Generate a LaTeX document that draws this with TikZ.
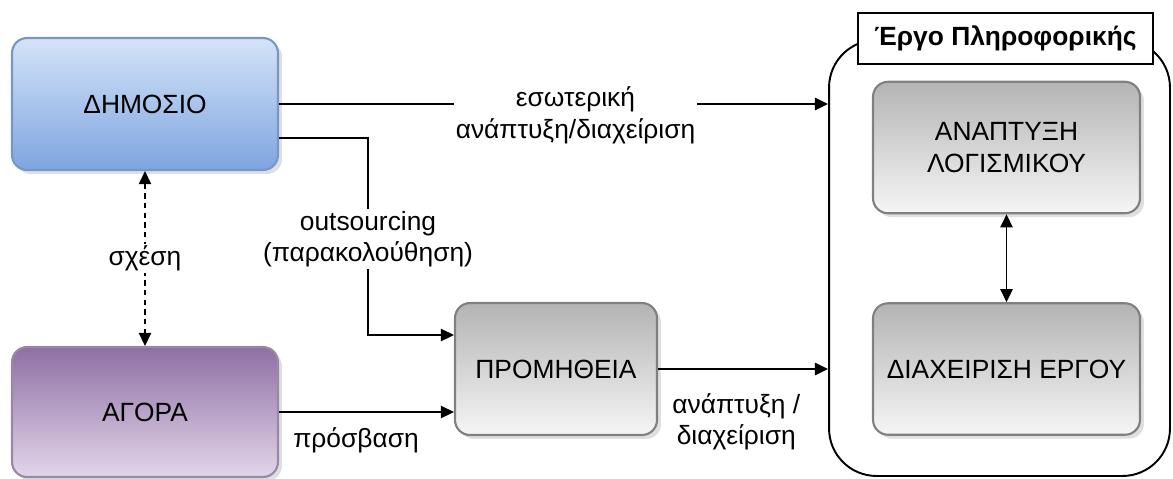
\documentclass[tikz,border=0pt]{standalone}
\usepackage{fontspec}
\setmainfont{Liberation Sans}
\usetikzlibrary{calc,arrows.meta,shadows}

\definecolor{pubtop}{HTML}{D4E3F8}
\definecolor{pubbot}{HTML}{7EA5E0}
\definecolor{publine}{HTML}{7896C8}
\definecolor{mkttop}{HTML}{8F6FA4}
\definecolor{mktbot}{HTML}{E2D6EA}
\definecolor{mktline}{HTML}{9A88A8}
\definecolor{greytop}{HTML}{B4B4B4}
\definecolor{greybot}{HTML}{F5F5F5}

\begin{document}
\begin{tikzpicture}[x=0.02cm, y=-0.02cm,
		box/.style={rounded corners=0.3cm, line width=1.2pt, font=\fontsize{15}{18}\selectfont,
			align=center, drop shadow={opacity=0.25, shadow xshift=0.08cm, shadow yshift=-0.08cm}},
		greybox/.style={box, draw=black!50, top color=greytop, bottom color=greybot,
			minimum width=5.34cm, minimum height=2.63cm},
		lbl/.style={fill=white, inner sep=1pt, align=center, font=\fontsize{15}{18}\selectfont},
		arr/.style={line width=1.1pt, -{Triangle[length=7.5pt, width=7pt]}},
		twoarr/.style={line width=1.1pt, {Triangle[length=7.5pt, width=7pt]}-{Triangle[length=7.5pt, width=7pt]}}]
			%%%%% START %%%%%
			\useasboundingbox (0,0) rectangle (1173,478);
			
			% Έργο Πληροφορικής
			\node[draw, line width=1.1pt, rounded corners=0.95cm, minimum width=6.82cm, minimum height=8.72cm] (project) at (999.5,258) {};
			\node[draw, fill=white, line width=1.1pt, minimum width=5.9cm, minimum height=1.02cm, font=\fontsize{15}{18}\selectfont\bfseries] (title) at (1005.5,38.5) {Έργο Πληροφορικής};
			\node[greybox] (software) at (1006.5,147.5) {ΑΝΑΠΤΥΞΗ\\ΛΟΓΙΣΜΙΚΟΥ};
			\node[greybox] (management) at (1006.5,369) {ΔΙΑΧΕΙΡΙΣΗ ΕΡΓΟΥ};
			\draw[twoarr] (software.south) -- (management.north);
			
			% δημόσιο, αγορά, προμήθεια
			\node[box, draw=publine, top color=pubtop, bottom color=pubbot, minimum width=5.32cm, minimum height=2.64cm] (public) at (145,104) {ΔΗΜΟΣΙΟ};
			\node[box, draw=mktline, top color=mkttop, bottom color=mktbot, minimum width=5.32cm, minimum height=2.6cm] (market) at (145,412) {ΑΓΟΡΑ};
			\node[greybox, minimum width=4.04cm, minimum height=2.64cm] (supply) at (556,369) {ΠΡΟΜΗΘΕΙΑ};
			
			\draw[twoarr, dash pattern=on 3pt off 2.5pt] (public.south) -- node[lbl] {σχέση} (market.north);
			
			\draw[arr] (public.east) -- node[lbl, pos=0.54, yshift=-6.5pt] {εσωτερική\\ανάπτυξη/διαχείριση} (public.east -| project.west);
			
			\coordinate (outstart) at ($(public.east)+(0,34)$);
			\coordinate (outbend) at (368,138);
			\draw[arr] (outstart) -- (outbend) |- ($(supply.west)+(0,-34)$);
			\node[lbl] (outlbl) at (368,239) {outsourcing\\(παρακολούθηση)};
			
			\draw[arr] (market.east) -- node[below=5pt, pos=0.44, font=\fontsize{15}{18}\selectfont] {πρόσβαση} (market.east -| supply.west);
			\draw[arr] (supply.east) -- node[below=10pt, pos=0.46, align=center, font=\fontsize{15}{18}\selectfont] {ανάπτυξη /\\διαχείριση} (supply.east -| project.west);
			%%%%% END %%%%%
		\end{tikzpicture}
\end{document}
